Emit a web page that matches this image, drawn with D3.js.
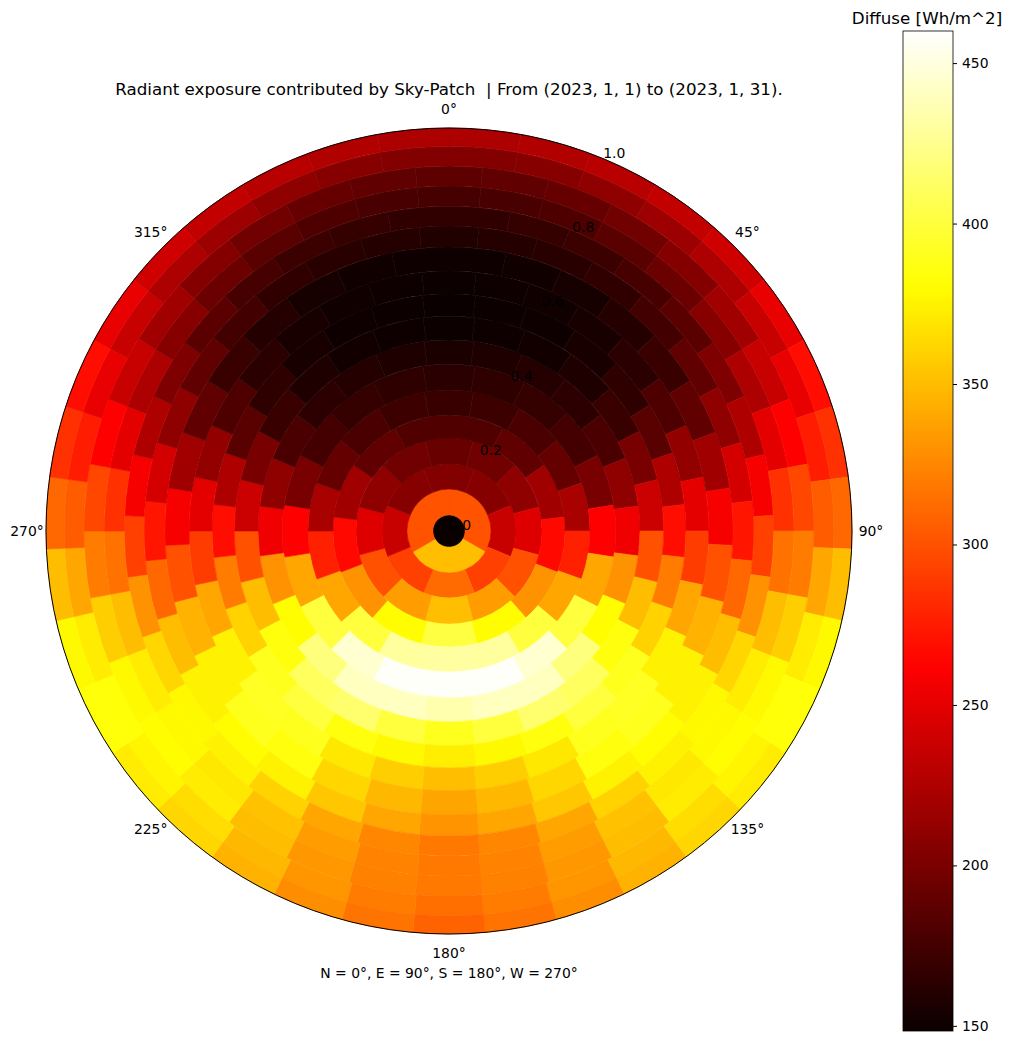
<!DOCTYPE html>
<html>
<head>
<meta charset="utf-8">
<script src="https://cdn.jsdelivr.net/npm/d3@7"></script>
<style>
  body { margin: 0; background: #fff; }
  text { font-family: "DejaVu Sans", sans-serif; fill: #000; white-space: pre; }
</style>
</head>
<body>
<div id="chart"></div>
<script>
// ---- data ----
// normalised radial edges of the sky-patch rings (0 = zenith, 1 = horizon)
const ringEdges = [0, 0.040, 0.104, 0.166, 0.231, 0.288, 0.350, 0.414, 0.474, 0.533,
                   0.588, 0.645, 0.705, 0.757, 0.806, 0.856, 0.906, 0.955, 1.0];

// radiant exposure per patch [Wh/m^2], each ring listed clockwise starting near N
const ring00 = [148];
const ring01 = [301, 351, 301];
const ring02 = [204, 206, 236, 292, 312, 292, 236, 206];
const ring03 = [192, 196, 210, 247, 300, 335, 351, 335, 300, 247, 210, 196];
const ring04 = [181, 188, 218, 266, 330, 380, 401, 380, 330, 266, 218, 188, 181];
const ring05 = [170, 172, 178, 190, 222, 277, 340, 400, 430, 431, 430, 400, 340, 277, 222, 190, 178, 172];
const ring06 = [163, 165, 168, 175, 200, 262, 340, 400, 445, 458, 458, 458, 445, 400, 340, 262, 200, 175, 168, 165];
const ring07 = [156, 158, 160, 164, 178, 210, 255, 330, 380, 420, 440, 440, 435,
                440, 440, 420, 380, 330, 255, 210, 178, 164, 160, 158];
const ring08 = [149, 150, 152, 158, 170, 200, 238, 300, 350, 385, 410, 415, 400, 390,
                400, 415, 410, 385, 350, 300, 238, 200, 170, 158, 152, 150];
const ring09 = [148, 149, 150, 155, 165, 185, 225, 268, 320, 360, 390, 400, 385, 378, 373,
                378, 385, 400, 390, 360, 320, 268, 225, 185, 165, 155, 150, 149];
const ring10 = [149, 150, 151, 155, 163, 180, 212, 250, 290, 340, 375, 392, 390, 370, 358, 351,
                358, 370, 390, 392, 375, 340, 290, 250, 212, 180, 163, 155, 151, 150];
const ring11 = [150, 151, 154, 160, 170, 188, 218, 258, 300, 345, 375, 390, 385, 362, 348, 339,
                348, 362, 385, 390, 375, 345, 300, 258, 218, 188, 170, 160, 154, 151, 150];
const ring12 = [159, 160, 162, 166, 174, 188, 210, 242, 272, 310, 350, 375, 380, 375, 355, 340, 331,
                340, 355, 375, 380, 375, 350, 310, 272, 242, 210, 188, 174, 166, 162, 160];
const ring13 = [166, 168, 171, 176, 186, 202, 225, 258, 292, 330, 362, 378, 375, 360, 340, 325, 318,
                325, 340, 360, 375, 378, 362, 330, 292, 258, 225, 202, 186, 176, 171, 168, 166];
const ring14 = [176, 177, 180, 185, 193, 206, 224, 250, 285, 315, 350, 372, 378, 370, 352, 335, 323, 318,
                323, 335, 352, 370, 378, 372, 350, 315, 285, 250, 224, 206, 193, 185, 180, 177];
const ring15 = [187, 188, 191, 196, 205, 218, 236, 262, 295, 320, 358, 378, 380, 372, 350, 333, 322, 318,
                322, 333, 350, 372, 380, 378, 358, 320, 295, 262, 236, 218, 205, 196, 191, 188];
const ring16 = [204, 206, 210, 216, 224, 236, 252, 275, 305, 340, 372, 383, 376, 365, 348, 332, 320, 314,
                320, 332, 348, 365, 376, 383, 372, 340, 305, 275, 252, 236, 224, 216, 210, 206, 204];
const ring17 = [224, 226, 229, 234, 240, 252, 268, 285, 310, 350, 378, 383, 372, 362, 345, 328, 316, 308,
                316, 328, 345, 362, 372, 383, 378, 350, 310, 285, 268, 252, 240, 234, 229, 226, 224];

const rings = [ring00, ring01, ring02, ring03, ring04, ring05, ring06, ring07, ring08,
               ring09, ring10, ring11, ring12, ring13, ring14, ring15, ring16, ring17];

const angleTicks = [0, 45, 90, 135, 180, 225, 270, 315];
const radialTicks = [0.0, 0.2, 0.4, 0.6, 0.8, 1.0];
const colorTicks = [150, 200, 250, 300, 350, 400, 450];
const colorDomain = [148.4, 460];

const titleText = "Radiant exposure contributed by Sky-Patch  | From (2023, 1, 1) to (2023, 1, 31).";
const xLabelText = "N = 0°, E = 90°, S = 180°, W = 270°";
const cbarLabelText = "Diffuse [Wh/m^2]";

// ---- layout ----
const W = 1012, H = 1044;
const cx = 449, cy = 531, R = 403;

const svg = d3.select("#chart").append("svg")
    .attr("width", W)
    .attr("height", H);

// matplotlib "hot" colormap
const hotR = d3.scaleLinear().domain([0, 0.365079, 1]).range([0.0416, 1, 1]).clamp(true);
const hotG = d3.scaleLinear().domain([0, 0.365079, 0.746032, 1]).range([0, 0, 1, 1]).clamp(true);
const hotB = d3.scaleLinear().domain([0, 0.746032, 1]).range([0, 0, 1]).clamp(true);
function hot(t) {
    return d3.rgb(hotR(t) * 255, hotG(t) * 255, hotB(t) * 255).formatHex();
}
const norm = d3.scaleLinear().domain(colorDomain).range([0, 1]).clamp(true);
const color = v => hot(norm(v));

const r = d3.scaleLinear().domain([0, 1]).range([0, R]);

// build patches, one patch of every ring is centred on S (180°)
let patches = [];
rings.forEach(function(vals, i) {
    let n = vals.length;
    let w = 2 * Math.PI / n;
    vals.forEach(function(v, k) {
        let c = Math.PI + (k - Math.floor(n / 2)) * w;
        patches.push({
            inner: ringEdges[i],
            outer: ringEdges[i + 1],
            start: c - w / 2,
            end: c + w / 2,
            value: v
        });
    });
});

const arc = d3.arc()
    .innerRadius(d => r(d.inner))
    .outerRadius(d => r(d.outer))
    .startAngle(d => d.start)
    .endAngle(d => d.end);

const polar = svg.append("g")
    .attr("transform", "translate(" + cx + "," + cy + ")");

polar.selectAll("path.patch")
    .data(patches)
    .enter()
    .append("path")
    .attr("class", "patch")
    .attr("d", arc)
    .attr("fill", d => color(d.value))
    .attr("stroke", d => color(d.value))
    .attr("stroke-width", 0.6);

// outer spine
polar.append("circle")
    .attr("r", R)
    .attr("fill", "none")
    .attr("stroke", "#000")
    .attr("stroke-width", 1);

// angle labels
polar.selectAll("text.angle")
    .data(angleTicks)
    .enter()
    .append("text")
    .attr("class", "angle")
    .attr("x", d => (R + 19) * Math.sin(d * Math.PI / 180))
    .attr("y", d => -(R + 19) * Math.cos(d * Math.PI / 180))
    .attr("dy", "0.35em")
    .attr("text-anchor", "middle")
    .style("font-size", "13.9px")
    .text(d => d + "°");

// radial labels along 22.5°
const rAng = 22.5 * Math.PI / 180;
polar.selectAll("text.rlab")
    .data(radialTicks)
    .enter()
    .append("text")
    .attr("class", "rlab")
    .attr("x", d => r(d) * Math.sin(rAng) + 11)
    .attr("y", d => -r(d) * Math.cos(rAng) - 6)
    .attr("dy", "0.35em")
    .attr("text-anchor", "middle")
    .style("font-size", "13.9px")
    .text(d => d3.format(".1f")(d));

// title and axis label
svg.append("text")
    .attr("x", cx)
    .attr("y", 95)
    .attr("text-anchor", "middle")
    .style("font-size", "16.7px")
    .text(titleText);

svg.append("text")
    .attr("x", cx)
    .attr("y", 978)
    .attr("text-anchor", "middle")
    .style("font-size", "13.9px")
    .text(xLabelText);

// ---- colorbar ----
const cbX = 903, cbW = 50, cbTop = 31, cbBot = 1031;
const defs = svg.append("defs");
const grad = defs.append("linearGradient")
    .attr("id", "hotgrad")
    .attr("x1", 0).attr("y1", 1).attr("x2", 0).attr("y2", 0);
d3.range(0, 1.0001, 0.02).forEach(function(t) {
    grad.append("stop")
        .attr("offset", t)
        .attr("stop-color", hot(t));
});

svg.append("rect")
    .attr("x", cbX)
    .attr("y", cbTop)
    .attr("width", cbW)
    .attr("height", cbBot - cbTop)
    .attr("fill", "url(#hotgrad)")
    .attr("stroke", "#000")
    .attr("stroke-width", 0.8);

const cbScale = d3.scaleLinear().domain(colorDomain).range([cbBot, cbTop]);
const cbAxis = d3.axisRight(cbScale)
    .tickValues(colorTicks)
    .tickSize(4)
    .tickPadding(5);

const cbG = svg.append("g")
    .attr("transform", "translate(" + (cbX + cbW) + ",0)")
    .call(cbAxis);
cbG.select(".domain").remove();
cbG.selectAll("text")
    .style("font-family", "DejaVu Sans")
    .style("font-size", "13.9px");

svg.append("text")
    .attr("x", 927)
    .attr("y", 24)
    .attr("text-anchor", "middle")
    .style("font-size", "16.7px")
    .text(cbarLabelText);
</script>
</body>
</html>
